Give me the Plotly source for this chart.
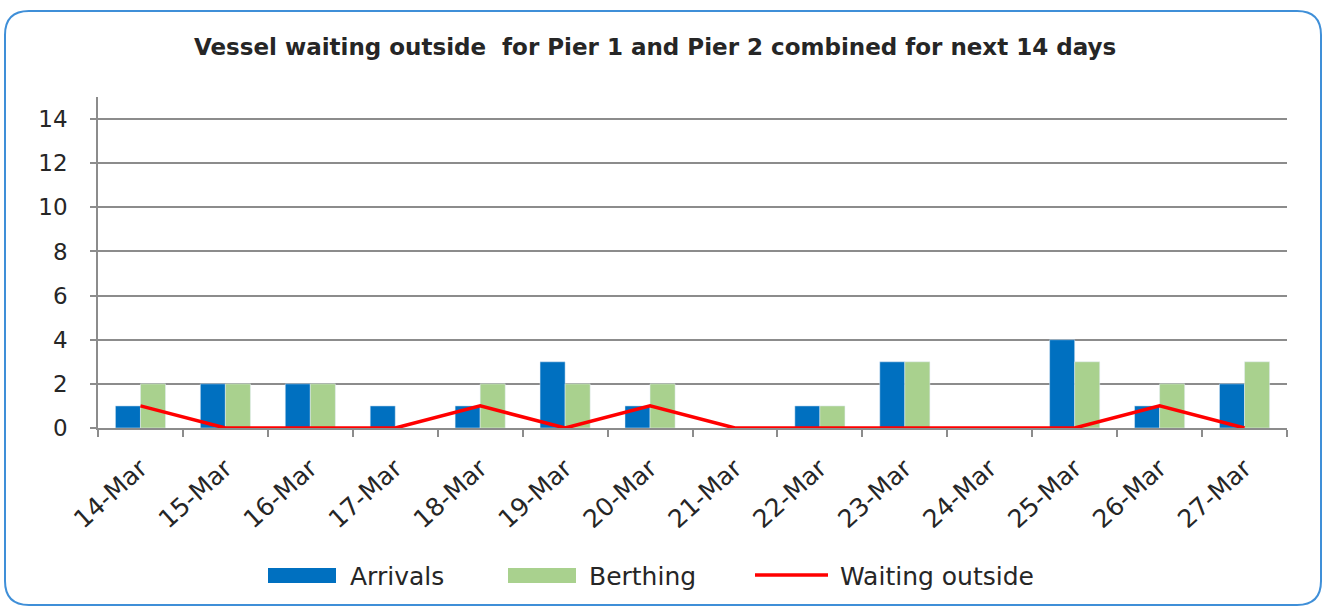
import plotly.graph_objects as go

categories = ["14-Mar", "15-Mar", "16-Mar", "17-Mar", "18-Mar", "19-Mar", "20-Mar",
              "21-Mar", "22-Mar", "23-Mar", "24-Mar", "25-Mar", "26-Mar", "27-Mar"]
arrivals = [1, 2, 2, 1, 1, 3, 1, 0, 1, 3, 0, 4, 1, 2]
berthing = [2, 2, 2, 0, 2, 2, 2, 0, 1, 3, 0, 3, 2, 3]
waiting = [1, 0, 0, 0, 1, 0, 1, 0, 0, 0, 0, 0, 1, 0]
y_ticks = [0, 2, 4, 6, 8, 10, 12, 14]

series_names = ["Arrivals", "Berthing", "Waiting outside"]
colors = ["#0070C0", "#A9D18E", "#FF0000"]

W, H = 1326, 610
L, R, T, B = 98, 39, 97, 182
pw, ph = W - L - R, H - T - B
FONT = "DejaVu Sans, Verdana, sans-serif"

def px(x):
    return (x - L) / pw

def py(y):
    return (H - B - y) / ph

# rounded border path in paper coords
x0, x1, y0, y1, rad = 5, 1321, 11, 605, 24
def pt(x, y):
    return f"{px(x):.5f},{py(y):.5f}"
path = (f"M {pt(x0 + rad, y0)} L {pt(x1 - rad, y0)} "
        f"Q {pt(x1, y0)} {pt(x1, y0 + rad)} L {pt(x1, y1 - rad)} "
        f"Q {pt(x1, y1)} {pt(x1 - rad, y1)} L {pt(x0 + rad, y1)} "
        f"Q {pt(x0, y1)} {pt(x0, y1 - rad)} L {pt(x0, y0 + rad)} "
        f"Q {pt(x0, y0)} {pt(x0 + rad, y0)} Z")

fig = go.Figure()
fig.add_trace(go.Bar(x=categories, y=arrivals, name=series_names[0], marker_color=colors[0],
                     showlegend=False))
fig.add_trace(go.Bar(x=categories, y=berthing, name=series_names[1], marker_color=colors[1],
                     showlegend=False))
fig.add_trace(go.Scatter(x=categories, y=waiting, name=series_names[2], mode="lines",
                         line=dict(color=colors[2], width=3.5), showlegend=False))

# custom legend (wide swatches like the original)
shapes = [dict(type="path", path=path, xref="paper", yref="paper",
               line=dict(color="#3F8FD8", width=2), layer="above")]
annotations = []
legend_items = [(268, 336, 348, "bar"), (508, 576, 587, "bar"), (755, 828, 838, "line")]
for (sx0, sx1, tx, kind), name, col in zip(legend_items, series_names, colors):
    if kind == "bar":
        shapes.append(dict(type="rect", xref="paper", yref="paper",
                           x0=px(sx0), x1=px(sx1), y0=py(583), y1=py(568),
                           fillcolor=col, line=dict(width=0)))
    else:
        shapes.append(dict(type="line", xref="paper", yref="paper",
                           x0=px(sx0), x1=px(sx1), y0=py(575), y1=py(575),
                           line=dict(color=col, width=3.5)))
    annotations.append(dict(text=name, xref="paper", yref="paper", x=px(tx), y=py(576),
                            xanchor="left", yanchor="middle", showarrow=False,
                            font=dict(size=25, color="#262626", family=FONT)))

fig.update_layout(
    width=W, height=H,
    margin=dict(l=L, r=R, t=T, b=B),
    paper_bgcolor="white", plot_bgcolor="white",
    barmode="group", bargap=0.41, bargroupgap=0,
    font=dict(family=FONT, color="#262626"),
    title=dict(text="<b>Vessel waiting outside  for Pier 1 and Pier 2 combined for next 14 days</b>",
               x=0.494, xanchor="center", y=1 - 47 / H, yanchor="middle",
               font=dict(size=23, color="#262626", family=FONT)),
    showlegend=False,
    shapes=shapes,
    annotations=annotations,
)
fig.update_xaxes(tickangle=-42, tickson="boundaries", ticks="outside", ticklen=7,
                 tickcolor="#8C8C8C", tickwidth=1.5, showline=True, linecolor="#8C8C8C",
                 linewidth=1.5, tickfont=dict(size=25, color="#262626", family=FONT),
                 ticklabelstandoff=14, showgrid=False)
fig.update_yaxes(range=[0, 15], tickvals=y_ticks, ticks="outside", ticklen=6,
                 tickcolor="#8C8C8C", tickwidth=1.5, showline=True, linecolor="#8C8C8C",
                 linewidth=1.5, showgrid=True, gridcolor="#8C8C8C", gridwidth=1.5,
                 zeroline=False, ticklabelstandoff=18,
                 tickfont=dict(size=23, color="#262626", family=FONT))

fig.write_html("out.html", config={"displayModeBar": False},
               post_script="document.body.style.margin='0';")
